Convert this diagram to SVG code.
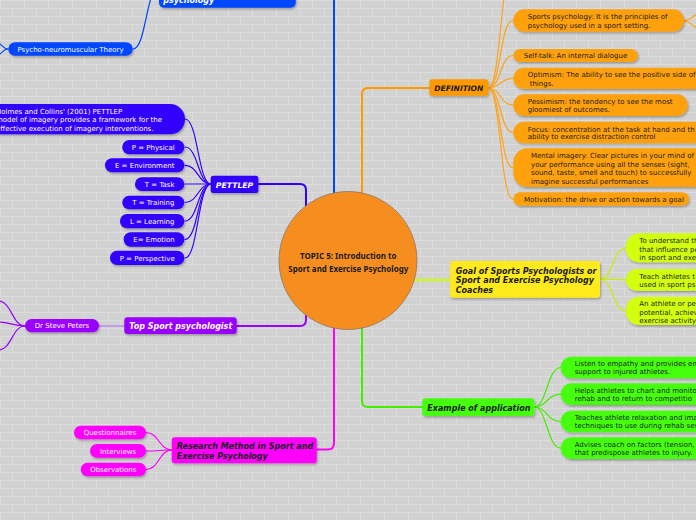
<svg xmlns="http://www.w3.org/2000/svg" width="696" height="520" viewBox="0 0 696 520">
<defs>
  <pattern id="bricks" width="24" height="16" patternUnits="userSpaceOnUse">
    <rect width="24" height="16" fill="#d2d2d2"/>
    <path d="M0,0.5H24M0,8.5H24M0.5,0V8M12.5,8V16" stroke="#dcdcdc" stroke-width="1" fill="none"/>
  </pattern>
  <filter id="sh" x="-10%" y="-20%" width="130%" height="160%">
    <feDropShadow dx="1" dy="1.5" stdDeviation="1" flood-color="#000" flood-opacity="0.3"/>
  </filter>
</defs>
<style>
  .t7{font-family:"DejaVu Sans",Verdana,sans-serif;font-size:7px}
  .hb{font-family:"DejaVu Sans",Verdana,sans-serif;font-size:8px;font-weight:bold;font-style:italic}
  .ct{font-family:"Noto Sans","DejaVu Sans",sans-serif;font-size:8.5px;font-weight:bold;fill:#1a1a1a;text-anchor:middle}
  .w{fill:#ffffff}
  .d{fill:#1c1c1c}
  .m{text-anchor:middle}
  .n{filter:url(#sh)}
  .c{fill:none;stroke-linecap:round}
  .main{stroke-width:2}
  .leaf{stroke-width:1.2}
</style>
<rect width="696" height="520" fill="url(#bricks)"/>

<g id="connectors" class="c">
  <path class="main" d="M334,200V-5" stroke="#0047ff"/>
  <path class="main" d="M362,200V94Q362,88 368,88H430" stroke="#ff9900"/>
  <path class="main" d="M258,184H300Q306,184 306,190V215" stroke="#3300ff"/>
  <path class="main" d="M405,280H451" stroke="#ccff00"/>
  <path class="main" d="M362,320V401Q362,407 368,407H423" stroke="#44ee00"/>
  <path class="main" d="M334,320V443Q334,449.5 328,449.5H317" stroke="#ff00ff"/>
  <path class="main" d="M306,305V320Q306,326 300,326H237" stroke="#9900ff"/>

  <g class="leaf" stroke="#0047ff">
    <path d="M133,49C146,49 146,-12 159,-12"/>
    <path d="M8,49C3,49 3,45 -3,42"/>
    <path d="M8,49C3,49 3,53 -3,56"/>
  </g>
  <g class="leaf" stroke="#3300ff">
    <path d="M185,119C198,119 198,184 211,184"/>
    <path d="M185,147C198,147 198,184 211,184"/>
    <path d="M185,165.3C198,165.3 198,184 211,184"/>
    <path d="M185,184H211"/>
    <path d="M185,202.5C198,202.5 198,184 211,184"/>
    <path d="M185,221C198,221 198,184 211,184"/>
    <path d="M185,239.5C198,239.5 198,184 211,184"/>
    <path d="M185,258C198,258 198,184 211,184"/>
  </g>
  <g class="leaf" stroke="#ffa31a">
    <path d="M488,88C501,88 500,-30 513,-30"/>
    <path d="M488,88C501,88 500,20.5 513,20.5"/>
    <path d="M488,88C501,88 500,55.5 513,55.5"/>
    <path d="M488,88C501,88 500,78.3 513,78.3"/>
    <path d="M488,88C501,88 500,105 513,105"/>
    <path d="M488,88C501,88 500,132.5 513,132.5"/>
    <path d="M488,88C501,88 500,167.6 513,167.6"/>
    <path d="M488,88C501,88 500,199 513,199"/>
    <path d="M684,21C690,21 692,16 700,12"/>
    <path d="M684,21C690,21 692,26 700,30"/>
  </g>
  <g class="leaf" stroke="#ccee00">
    <path d="M600,279C613,279 613,247.8 626,247.8"/>
    <path d="M600,279C613,279 613,279.8 626,279.8"/>
    <path d="M600,279C613,279 613,310.8 626,310.8"/>
  </g>
  <g class="leaf" stroke="#44ee00">
    <path d="M534,407C547,407 547,367.5 561,367.5"/>
    <path d="M534,407C547,407 547,394.2 561,394.2"/>
    <path d="M534,407C547,407 547,421.5 561,421.5"/>
    <path d="M534,407C547,407 547,448.2 561,448.2"/>
  </g>
  <g class="leaf" stroke="#ff00ff">
    <path d="M172,450C159,450 159,432.5 146,432.5"/>
    <path d="M172,450C159,450 159,451 146,451"/>
    <path d="M172,450C159,450 159,469.5 146,469.5"/>
  </g>
  <path class="leaf" d="M124,326H99" stroke="#b266ff"/>
  <g class="leaf" stroke="#9900ff">
    <path d="M25,326C12,326 12,301 -2,301"/>
    <path d="M25,326C12,326 10,322 -2,322"/>
    <path d="M25,326C12,326 12,350 -2,350"/>
  </g>
</g>

<g id="center">
  <circle cx="348" cy="260.5" r="69" fill="#f68e1f" stroke="#8a7a6a" stroke-width="0.8"/>
  <text class="ct" x="348.3" y="258.5" textLength="96.7" lengthAdjust="spacingAndGlyphs">TOPIC 5: Introduction to</text>
  <text class="ct" x="348.3" y="272" textLength="120" lengthAdjust="spacingAndGlyphs">Sport and Exercise Psychology</text>
</g>

<g id="node-top-blue">
  <rect class="n" x="159" y="-30" width="136.7" height="37.7" rx="5" fill="#0047ff"/>
  <text class="hb w" x="163.3" y="3">psychology</text>
</g>
<g id="node-psycho">
  <rect class="n" x="8.3" y="42.3" width="124.4" height="13.4" rx="6.7" fill="#0047ff"/>
  <text class="t7 w m" x="70.5" y="51.5">Psycho-neuromuscular Theory</text>
</g>

<g id="node-pettlep">
  <rect class="n" x="210.7" y="175.7" width="47.6" height="17.3" rx="2.5" fill="#3300ff"/>
  <text class="hb w m" x="234.5" y="187.8" style="font-size:7.7px">PETTLEP</text>
</g>
<g id="node-holmes">
  <rect class="n" x="-20" y="104" width="205" height="30.3" rx="15" fill="#3300ff"/>
  <text class="t7 w" x="-4" y="113.5">Holmes and Collins' (2001) PETTLEP</text>
  <text class="t7 w" x="-4" y="121.8">model of imagery provides a framework for the</text>
  <text class="t7 w" x="-4" y="131.2">effective execution of imagery interventions.</text>
</g>
<g id="node-p1">
  <rect class="n" x="122.3" y="140" width="62" height="14.3" rx="7" fill="#3300ff"/>
  <text class="t7 w m" x="153.2" y="149.5">P = Physical</text>
</g>
<g id="node-e1">
  <rect class="n" x="105" y="158.3" width="79.3" height="14" rx="7" fill="#3300ff"/>
  <text class="t7 w m" x="144.7" y="167.8">E = Environment</text>
</g>
<g id="node-t1">
  <rect class="n" x="135" y="177.3" width="49.3" height="13.7" rx="6.8" fill="#3300ff"/>
  <text class="t7 w m" x="159.7" y="186.6">T = Task</text>
</g>
<g id="node-t2">
  <rect class="n" x="122.3" y="195.7" width="62" height="13.6" rx="6.8" fill="#3300ff"/>
  <text class="t7 w m" x="153.3" y="205">T = Training</text>
</g>
<g id="node-l">
  <rect class="n" x="120" y="214" width="64.3" height="14.3" rx="7" fill="#3300ff"/>
  <text class="t7 w m" x="152.2" y="223.7">L = Learning</text>
</g>
<g id="node-e2">
  <rect class="n" x="123.7" y="232.3" width="60.6" height="14.4" rx="7" fill="#3300ff"/>
  <text class="t7 w m" x="154" y="242">E= Emotion</text>
</g>
<g id="node-p2">
  <rect class="n" x="110" y="250.7" width="74.3" height="14.3" rx="7" fill="#3300ff"/>
  <text class="t7 w m" x="147.2" y="260.5">P = Perspective</text>
</g>

<g id="node-definition">
  <rect class="n" x="429.3" y="79.3" width="59" height="16.4" rx="2.5" fill="#ff9900"/>
  <text class="hb d m" x="458.8" y="90.7" style="font-size:7.5px">DEFINITION</text>
</g>
<g id="node-sportpsy">
  <rect class="n" x="513.3" y="9.3" width="170.7" height="22.4" rx="11" fill="#ffa00c"/>
  <text class="t7 d" x="527.7" y="18.5">Sports psychology: It is the principles of</text>
  <text class="t7 d" x="527.7" y="28.2">psychology used in a sport setting.</text>
</g>
<g id="node-selftalk">
  <rect class="n" x="513.3" y="49" width="124.7" height="13" rx="6.5" fill="#ffa00c"/>
  <text class="t7 d" x="523.7" y="58.2">Self-talk: An internal dialogue</text>
</g>
<g id="node-optimism">
  <rect class="n" x="513.3" y="67.7" width="200" height="21.3" rx="10.6" fill="#ffa00c"/>
  <text class="t7 d" x="527.7" y="76.8">Optimism: The ability to see the positive side of</text>
  <text class="t7 d" x="529.7" y="85.5">things.</text>
</g>
<g id="node-pessimism">
  <rect class="n" x="513.3" y="94.3" width="174.4" height="21.7" rx="10.8" fill="#ffa00c"/>
  <text class="t7 d" x="527.7" y="104.2">Pessimism: the tendency to see the most</text>
  <text class="t7 d" x="527.7" y="112">gloomiest of outcomes.</text>
</g>
<g id="node-focus">
  <rect class="n" x="513.3" y="121.7" width="200" height="21.6" rx="10.8" fill="#ffa00c"/>
  <text class="t7 d" x="527.7" y="131.5">Focus: concentration at the task at hand and th</text>
  <text class="t7 d" x="527.7" y="139.2">ability to exercise distraction control</text>
</g>
<g id="node-mental">
  <rect class="n" x="513.3" y="148.3" width="200" height="38.7" rx="14" fill="#ffa00c"/>
  <text class="t7 d" x="531" y="158.2">Mental imagery: Clear pictures in your mind of</text>
  <text class="t7 d" x="531" y="166.5">your performance using all the senses (sight,</text>
  <text class="t7 d" x="531" y="175.2">sound, taste, smell and touch) to successfully</text>
  <text class="t7 d" x="531" y="183.5">imagine successful performances</text>
</g>
<g id="node-motivation">
  <rect class="n" x="513.3" y="192.3" width="175.7" height="13.4" rx="6.7" fill="#ffa00c"/>
  <text class="t7 d" x="524" y="201.5">Motivation: the drive or action towards a goal</text>
</g>

<g id="node-goal">
  <rect class="n" x="450" y="261" width="150" height="36.7" rx="3" fill="#ffea1a"/>
  <text class="hb d" x="455.7" y="273.7">Goal of Sports Psychologists or</text>
  <text class="hb d" x="455.7" y="283.2">Sport and Exercise Psychology</text>
  <text class="hb d" x="455.7" y="293">Coaches</text>
</g>
<g id="node-goal1">
  <rect class="n" x="626" y="233.3" width="100" height="29" rx="13" fill="#d2ff0a"/>
  <text class="t7 d" x="639.3" y="242.8">To understand th</text>
  <text class="t7 d" x="639.3" y="251.5">that influence pe</text>
  <text class="t7 d" x="639.3" y="260.2">in sport and exe</text>
</g>
<g id="node-goal2">
  <rect class="n" x="626" y="269" width="100" height="21.7" rx="10.8" fill="#d2ff0a"/>
  <text class="t7 d" x="639.3" y="279.2">Teach athletes t</text>
  <text class="t7 d" x="639.3" y="286.8">used in sport ps</text>
</g>
<g id="node-goal3">
  <rect class="n" x="626" y="296.7" width="100" height="28.3" rx="13" fill="#d2ff0a"/>
  <text class="t7 d" x="639.3" y="306.2">An athlete or pe</text>
  <text class="t7 d" x="639.3" y="314.5">potential, achiev</text>
  <text class="t7 d" x="639.3" y="323.2">exercise activity</text>
</g>

<g id="node-example">
  <rect class="n" x="422.3" y="398.3" width="112" height="17.7" rx="3" fill="#44ff11"/>
  <text class="hb d" x="427.3" y="410.7">Example of application</text>
</g>
<g id="node-ex1">
  <rect class="n" x="560.7" y="356.7" width="150" height="21.6" rx="10.8" fill="#44ff11"/>
  <text class="t7 d" x="574.7" y="365.8">Listen to empathy and provides em</text>
  <text class="t7 d" x="574.7" y="373.5">support to injured athletes.</text>
</g>
<g id="node-ex2">
  <rect class="n" x="560.7" y="383.3" width="150" height="21.7" rx="10.8" fill="#44ff11"/>
  <text class="t7 d" x="574.7" y="392.5">Helps athletes to chart and monito</text>
  <text class="t7 d" x="574.7" y="400.5">rehab and to return to competitio</text>
</g>
<g id="node-ex3">
  <rect class="n" x="560.7" y="410.7" width="150" height="21.6" rx="10.8" fill="#44ff11"/>
  <text class="t7 d" x="574.7" y="419.8">Teaches athlete relaxation and ima</text>
  <text class="t7 d" x="574.7" y="427.5">techniques to use during rehab ses</text>
</g>
<g id="node-ex4">
  <rect class="n" x="560.7" y="437.3" width="150" height="21.7" rx="10.8" fill="#44ff11"/>
  <text class="t7 d" x="574.7" y="446.8">Advises coach on factors (tension,</text>
  <text class="t7 d" x="574.7" y="454.5">that predispose athletes to injury.</text>
</g>

<g id="node-research">
  <rect class="n" x="171.7" y="437.3" width="145" height="26" rx="3" fill="#ff00ff"/>
  <text class="hb d" x="176.7" y="448.7">Research Method in Sport and</text>
  <text class="hb d" x="176.7" y="458.7">Exercise Psychology</text>
</g>
<g id="node-questionnaires">
  <rect class="n" x="74" y="425.7" width="72" height="13.6" rx="6.8" fill="#ff00ff"/>
  <text class="t7 w m" x="110" y="435">Questionnaires</text>
</g>
<g id="node-interviews">
  <rect class="n" x="90" y="444" width="56" height="13.7" rx="6.8" fill="#ff00ff"/>
  <text class="t7 w m" x="118" y="453.5">Interviews</text>
</g>
<g id="node-observations">
  <rect class="n" x="80.7" y="462.7" width="65.3" height="13.6" rx="6.8" fill="#ff00ff"/>
  <text class="t7 w m" x="113.3" y="472">Observations</text>
</g>

<g id="node-topsport">
  <rect class="n" x="124.3" y="317.3" width="112.4" height="16.7" rx="3" fill="#9900ff"/>
  <text class="hb w" x="129.3" y="329">Top Sport psychologist</text>
</g>
<g id="node-steve">
  <rect class="n" x="25" y="319" width="74" height="13.3" rx="6.6" fill="#9900ff"/>
  <text class="t7 w m" x="62" y="328.2">Dr Steve Peters</text>
</g>
</svg>
